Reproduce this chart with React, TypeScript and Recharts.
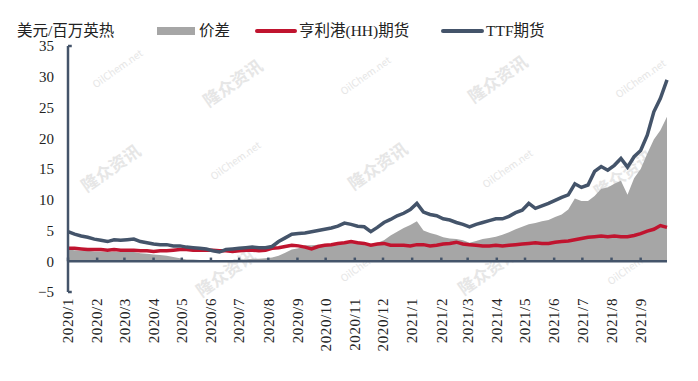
import {
  Area,
  ComposedChart,
  Line,
  ReferenceLine,
  XAxis,
  YAxis,
} from "recharts";

// weekly samples, first one on 2020-01-01
const FIRST_DAY = "2020-01-01";
const STEP_DAYS = 7;

const monthTicks = [
  "2020/1", "2020/2", "2020/3", "2020/4", "2020/5", "2020/6", "2020/7",
  "2020/8", "2020/9", "2020/10", "2020/11", "2020/12", "2021/1", "2021/2",
  "2021/3", "2021/4", "2021/5", "2021/6", "2021/7", "2021/8", "2021/9",
];

const yTicks = [-5, 0, 5, 10, 15, 20, 25, 30, 35];

// TTF期货
const ttf = [
  4.8, 4.4, 4.1, 3.9, 3.6,
  3.4, 3.2, 3.5, 3.4,
  3.5, 3.6, 3.2, 3.0,
  2.8, 2.7, 2.7, 2.5, 2.5,
  2.3, 2.2, 2.1, 2.0,
  1.7, 1.5, 1.9, 2.0,
  2.1, 2.2, 2.3, 2.2, 2.2,
  2.4, 3.2, 3.8, 4.4,
  4.5, 4.6, 4.8, 5.0, 5.2,
  5.4, 5.7, 6.2, 6.0,
  5.7, 5.6, 4.8, 5.5,
  6.3, 6.8, 7.4, 7.8, 8.4,
  9.4, 8.0, 7.6, 7.4,
  6.9, 6.7, 6.3, 6.0,
  5.6, 6.0, 6.3, 6.6, 6.9,
  6.9, 7.3, 7.9, 8.3,
  9.4, 8.6, 9.0, 9.4,
  9.9, 10.4, 10.8, 12.6, 12.0,
  12.4, 14.6, 15.4, 14.8,
  15.6, 16.7, 15.3, 17.0,
  18.0, 20.5, 24.3, 26.5, 29.5,
];

// 亨利港(HH)期货
const hh = [
  2.1, 2.1, 2.0, 1.9, 1.9,
  1.9, 1.8, 1.9, 1.8,
  1.8, 1.8, 1.7, 1.7,
  1.6, 1.7, 1.7, 1.8, 1.9,
  1.9, 1.8, 1.8, 1.8,
  1.8, 1.7, 1.7, 1.6,
  1.7, 1.8, 1.8, 1.7, 1.8,
  2.1, 2.2, 2.4, 2.6,
  2.5, 2.3, 2.0, 2.4, 2.6,
  2.7, 2.9, 3.0, 3.2,
  3.0, 2.9, 2.6, 2.8,
  2.9, 2.6, 2.6, 2.6, 2.5,
  2.7, 2.7, 2.5, 2.6,
  2.8, 2.9, 3.1, 2.8,
  2.7, 2.6, 2.5, 2.5, 2.6,
  2.5, 2.6, 2.7, 2.8,
  2.9, 3.0, 2.9, 2.9,
  3.1, 3.2, 3.3, 3.5, 3.7,
  3.9, 4.0, 4.1, 4.0,
  4.1, 4.0, 4.0, 4.2,
  4.5, 4.9, 5.2, 5.8, 5.5,
];

// 价差
const spread = [
  1.9, 1.8, 1.7, 1.7, 1.6,
  1.6, 1.5, 1.6, 1.5,
  1.6, 1.5, 1.3, 1.2,
  1.1, 1.0, 0.9, 0.7, 0.5,
  0.3, 0.3, 0.2, 0.2,
  0.0, 0.0, 0.1, 0.2,
  0.3, 0.3, 0.4, 0.4, 0.5,
  0.6, 0.9, 1.4, 1.9,
  2.1, 2.6, 2.6, 2.7, 2.7,
  2.7, 2.8, 3.0, 3.2,
  3.3, 2.9, 2.4, 3.0,
  3.4, 4.2, 4.8, 5.4, 5.9,
  6.5, 5.0, 4.6, 4.3,
  3.9, 3.7, 3.6, 3.4,
  3.0, 3.3, 3.6, 3.8, 4.0,
  4.3, 4.7, 5.2, 5.6,
  6.0, 6.2, 6.5, 6.7,
  7.2, 7.6, 8.4, 10.2, 9.8,
  9.8, 10.6, 11.8, 12.0,
  12.6, 13.1, 10.8, 13.5,
  15.0, 17.5, 19.8, 21.3, 23.5,
];

const DAY = 86400000;
const start = Date.parse(FIRST_DAY + "T00:00:00Z");
const dayOfMonth = (label: string) => {
  const [y, m] = label.split("/").map(Number);
  return Math.round((Date.UTC(y, m - 1, 1) - start) / DAY);
};
const tickDays = monthTicks.map(dayOfMonth);
const tickLabel: Record<number, string> = {};
tickDays.forEach((d, i) => (tickLabel[d] = monthTicks[i]));

const data = ttf.map((v, i) => ({
  t: i * STEP_DAYS,
  ttf: v,
  hh: hh[i],
  spread: spread[i],
}));
const lastDay = data[data.length - 1].t;

const AXIS = "#44546a";
const RED = "#c0142f";
const GRAY = "#a6a6a6";
const SERIF = '"Liberation Serif", "Times New Roman", "Noto Sans CJK SC", serif';

function MonthTick({ x, y, payload }: any) {
  return (
    <text
      x={x}
      y={y}
      transform={`rotate(-90, ${x}, ${y})`}
      textAnchor="end"
      dy="0.35em"
      fontSize={15}
      fontFamily={SERIF}
      fill="#222"
      letterSpacing={0.6}
    >
      {tickLabel[payload.value]}
    </text>
  );
}

const marks = [
  { text: "隆众资讯", x: 232, y: 82 }, { text: "隆众资讯", x: 497, y: 78 },
  { text: "隆众资讯", x: 110, y: 167 }, { text: "隆众资讯", x: 377, y: 165 },
  { text: "隆众资讯", x: 623, y: 173 }, { text: "隆众资讯", x: 225, y: 272 },
  { text: "隆众资讯", x: 487, y: 270 },
  { text: "OilChem.net", x: 117, y: 68 }, { text: "OilChem.net", x: 365, y: 75 },
  { text: "OilChem.net", x: 640, y: 78 }, { text: "OilChem.net", x: 235, y: 160 },
  { text: "OilChem.net", x: 507, y: 168 }, { text: "OilChem.net", x: 365, y: 262 },
  { text: "OilChem.net", x: 632, y: 265 },
];

export default function App() {
  return (
    <div style={{ position: "relative", width: 690, height: 365, fontFamily: SERIF }}>
      {/* watermark */}
      {marks.map((m, i) => (
        <div
          key={i}
          style={{
            position: "absolute",
            left: m.x - 8,
            top: m.y - 8,
            transform: "translate(-50%, -50%) rotate(-35deg)",
            whiteSpace: "nowrap",
            color: "#e6e6e6",
            fontSize: m.text === "OilChem.net" ? 10 : 17,
            fontWeight: m.text === "OilChem.net" ? 400 : 700,
            fontFamily: '"Noto Sans CJK SC", sans-serif',
          }}
        >
          {m.text}
        </div>
      ))}

      {/* legend + unit */}
      <div style={{ position: "absolute", top: 14, left: 0, width: 690, height: 18, fontSize: 15.5, color: "#222", lineHeight: "18px" }}>
        <span style={{ position: "absolute", left: 9 }}>美元/百万英热</span>
        <span style={{ position: "absolute", left: 149, top: 5, width: 38, height: 8, background: GRAY }} />
        <span style={{ position: "absolute", left: 191 }}>价差</span>
        <span style={{ position: "absolute", left: 247, top: 7, width: 42, height: 4, background: RED, borderRadius: 2 }} />
        <span style={{ position: "absolute", left: 291 }}>亨利港(HH)期货</span>
        <span style={{ position: "absolute", left: 433, top: 7, width: 43, height: 4, background: AXIS, borderRadius: 2 }} />
        <span style={{ position: "absolute", left: 478 }}>TTF期货</span>
      </div>

      <div style={{ position: "absolute", left: 0, top: 0 }}>
        <ComposedChart
          width={690}
          height={365}
          data={data}
          margin={{ top: 38, right: 31, left: 0, bottom: 0 }}
        >
          <XAxis
            dataKey="t"
            type="number"
            domain={[0, lastDay]}
            ticks={tickDays}
            interval={0}
            axisLine={false}
            tickLine={false}
            tickSize={0}
            tickMargin={6}
            height={81}
            tick={<MonthTick />}
          />
          <YAxis
            domain={[-5, 35]}
            ticks={yTicks}
            interval={0}
            axisLine={{ stroke: AXIS, strokeWidth: 2.5 }}
            tickLine={false}
            tickSize={12}
            width={60}
            tick={{ fontSize: 15, fontFamily: SERIF, fill: "#222" }}
            tickFormatter={(v) => (v < 0 ? `−${Math.abs(v)}` : `${v}`)}
          />
          <Area
            dataKey="spread"
            type="linear"
            baseValue={0}
            fill={GRAY}
            fillOpacity={1}
            stroke="none"
            isAnimationActive={false}
          />
          <ReferenceLine y={0} stroke={AXIS} strokeWidth={2.5} />
          {tickDays.map((d) => (
            <ReferenceLine
              key={d}
              segment={[{ x: d, y: 0 }, { x: d, y: 0.6 }]}
              stroke={AXIS}
              strokeWidth={2.5}
            />
          ))}
          <ReferenceLine segment={[{ x: 0, y: 35 }, { x: 4, y: 35 }]} stroke={AXIS} strokeWidth={2.5} />
          <ReferenceLine segment={[{ x: 0, y: -5 }, { x: 4, y: -5 }]} stroke={AXIS} strokeWidth={2.5} />
          <Line
            dataKey="hh"
            type="linear"
            stroke={RED}
            strokeWidth={3.5}
            dot={false}
            isAnimationActive={false}
          />
          <Line
            dataKey="ttf"
            type="linear"
            stroke={AXIS}
            strokeWidth={3.5}
            dot={false}
            isAnimationActive={false}
          />
        </ComposedChart>
      </div>
    </div>
  );
}
